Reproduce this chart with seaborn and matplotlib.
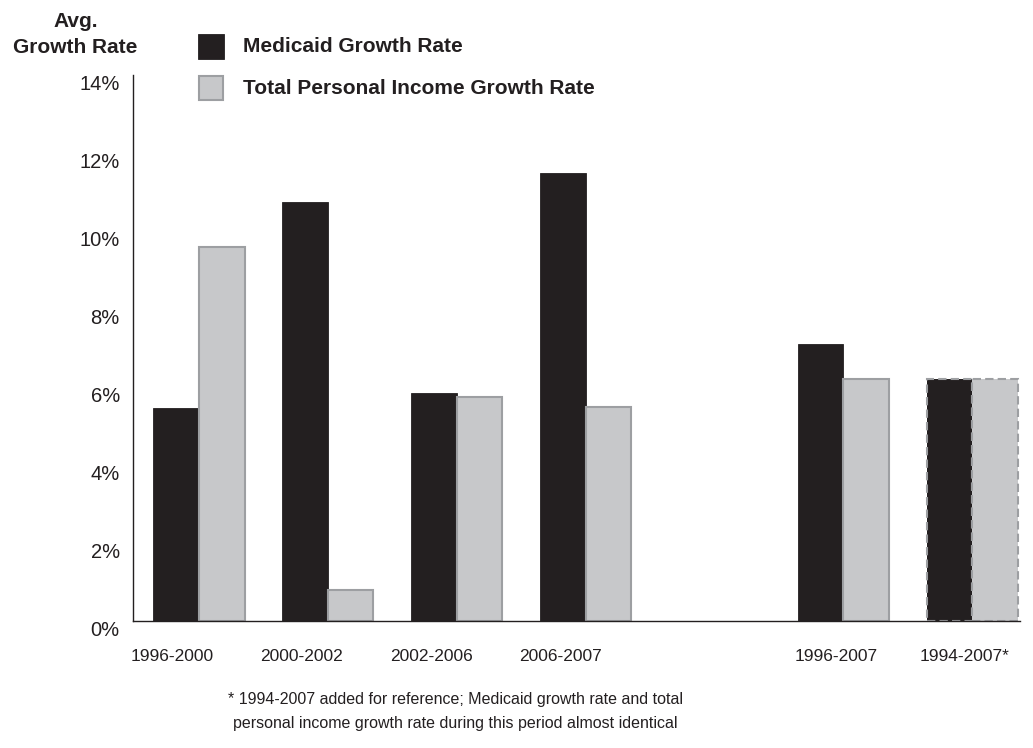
import matplotlib
matplotlib.use("Agg")
import matplotlib.pyplot as plt
import matplotlib.patches as mpatches
import matplotlib.transforms as mtransforms
import seaborn as sns
import pandas as pd

# valores (%)
periods = ["1996-2000", "2000-2002", "2002-2006", "2006-2007", "1996-2007", "1994-2007*"]
medicaid = [5.45, 10.75, 5.85, 11.5, 7.1, 6.2]
income = [9.6, 0.8, 5.75, 5.5, 6.2, 6.2]
series = ["Medicaid Growth Rate", "Total Personal Income Growth Rate"]
yticks = [0, 2, 4, 6, 8, 10, 12, 14]

BLACK = "#231f20"
GRAY = "#c7c8ca"
EDGE = "#9d9fa2"
W, H = 1033, 748

df = pd.DataFrame({
    "period": periods * 2,
    "serie": [series[0]] * len(periods) + [series[1]] * len(periods),
    "valor": medicaid + income,
})

# hueco vacio entre 2006-2007 y 1996-2007
order = periods[:4] + [" "] + periods[4:]

sns.set_style("white")
plt.rcParams["font.family"] = ["Liberation Sans", "DejaVu Sans"]

fig = plt.figure(figsize=(W / 100, H / 100), dpi=100)
ax = fig.add_axes([133 / W, 1 - 621 / H, (1020 - 133) / W, (621 - 75) / H])

sns.barplot(data=df, x="period", y="valor", hue="serie", order=order,
            hue_order=series, palette=[BLACK, GRAY], width=0.71,
            saturation=1, legend=False, ax=ax)

# estilos de las barras
for i, cont in enumerate(ax.containers):
    bars = list(cont)
    last = max(bars, key=lambda b: b.get_x())
    for b in bars:
        if i == 0:
            b.set_edgecolor(BLACK)
            b.set_linewidth(0.6)
        else:
            b.set_edgecolor(EDGE)
            b.set_linewidth(1.5)
    # 1994-2007 con borde discontinuo
    last.set_edgecolor(EDGE)
    last.set_linewidth(1.5)
    last.set_linestyle((0, (4, 2)))

ax.set_ylim(0, 14)
ax.set_xlim(-0.51, 6.37)
ax.set_yticks(yticks)
ax.set_yticklabels([f"{v}%" for v in yticks])
ax.set_xlabel("")
ax.set_ylabel("")
ax.tick_params(axis="y", length=0, pad=9.5, labelsize=14.5, colors=BLACK)
ax.tick_params(axis="x", length=0, pad=20, labelsize=12.5, colors=BLACK)

# las etiquetas del original estan algo desplazadas
for lab in ax.get_yticklabels():
    lab.set_transform(lab.get_transform() +
                      mtransforms.ScaledTranslation(0, -7 / 100, fig.dpi_scale_trans))
x_shift = {"1996-2000": -27, "2000-2002": -26, "2002-2006": -25,
           "2006-2007": -25, "1996-2007": -7, "1994-2007*": -8}
for lab in ax.get_xticklabels():
    dx = x_shift.get(lab.get_text(), 0)
    lab.set_transform(lab.get_transform() +
                      mtransforms.ScaledTranslation(dx / 100, 0, fig.dpi_scale_trans))

sns.despine(ax=ax)
for s in ["left", "bottom"]:
    ax.spines[s].set_color(BLACK)
    ax.spines[s].set_linewidth(1.0)

# leyenda (cuadros y textos colocados a mano)
fig.patches.append(mpatches.Rectangle((198 / W, 1 - 59 / H), 26 / W, 25 / H,
                                      facecolor=BLACK, edgecolor=BLACK, linewidth=0.6,
                                      transform=fig.transFigure, figure=fig))
fig.patches.append(mpatches.Rectangle((199 / W, 1 - 100 / H), 24 / W, 24 / H,
                                      facecolor=GRAY, edgecolor=EDGE, linewidth=1.5,
                                      transform=fig.transFigure, figure=fig))
fig.text(243 / W, 1 - 47 / H, series[0], ha="left", va="center",
         fontsize=15, fontweight="bold", color=BLACK)
fig.text(243 / W, 1 - 88 / H, series[1], ha="left", va="center",
         fontsize=15, fontweight="bold", color=BLACK)

fig.text(75.5 / W, 1 - 34.5 / H, "Avg.\nGrowth Rate", ha="center", va="center",
         fontsize=15, fontweight="bold", color=BLACK, linespacing=1.45)

fig.text(455 / W, 1 - 711.5 / H,
         "* 1994-2007 added for reference; Medicaid growth rate and total\n"
         "personal income growth rate during this period almost identical",
         ha="center", va="center", multialignment="center",
         fontsize=11.5, color=BLACK, linespacing=1.7)

fig.savefig("out.png", dpi=100)
